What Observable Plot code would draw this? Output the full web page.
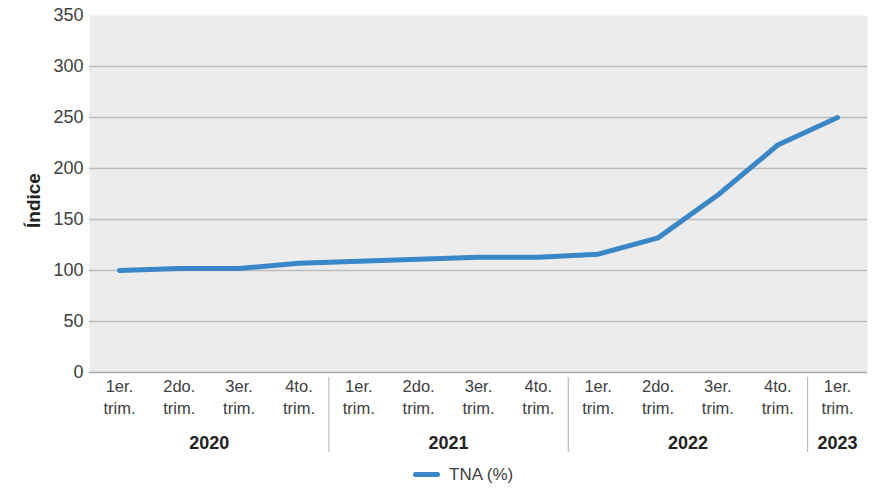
<!DOCTYPE html>
<html><head><meta charset="utf-8">
<script src="https://cdn.jsdelivr.net/npm/d3@7"></script>
<script src="https://cdn.jsdelivr.net/npm/@observablehq/plot@0.6"></script>
<style>
body{margin:0;background:#fff;font-family:"Liberation Sans",Arial,sans-serif;}
#legend{height:29px;display:flex;align-items:center;justify-content:flex-start;padding-left:413px;font-size:17px;color:#404040;}
#legend .sw{display:inline-block;width:27px;height:5px;border-radius:3px;margin-right:9px;}
</style></head><body><div id="chart"></div><div id="legend"></div><script>
const years = ["2020","2020","2020","2020","2021","2021","2021","2021","2022","2022","2022","2022","2023"];
const quarterLabels = ["1er.\ntrim.","2do.\ntrim.","3er.\ntrim.","4to.\ntrim.","1er.\ntrim.","2do.\ntrim.","3er.\ntrim.","4to.\ntrim.","1er.\ntrim.","2do.\ntrim.","3er.\ntrim.","4to.\ntrim.","1er.\ntrim."];
const values = [100, 102, 102, 107, 109, 111, 113, 113, 116, 132, 174, 223, 250];
const yTicks = [0, 50, 100, 150, 200, 250, 300, 350];
const seriesName = "TNA (%)";
const yLabel = "Índice";
const lineColor = "#3a87c8";

const data = values.map((v, i) => ({i, year: years[i], value: v}));
const yearGroups = d3.groups(data, d => d.year).map(([year, rows]) => ({year, mid: d3.mean(rows, r => r.i), last: d3.max(rows, r => r.i)}));
const separators = yearGroups.slice(0, -1).map(g => g.last + 0.5);

const chart = Plot.plot({
  width: 879, height: 460,
  marginTop: 15, marginRight: 12, marginBottom: 88, marginLeft: 89,
  style: {fontFamily: '"Liberation Sans", Arial, sans-serif', fontSize: "16.5px", color: "#404040", background: "transparent", overflow: "visible"},
  x: {type: "linear", domain: [-0.5, values.length - 0.5]},
  y: {domain: [0, 350]},
  marks: [
    Plot.frame({fill: "#ececec", stroke: "none"}),
    Plot.ruleY(yTicks.filter(t => t > 0 && t < 350), {stroke: "#bdbdbd", strokeWidth: 1.3}),
    Plot.ruleY([0], {stroke: "#a8a8a8", strokeWidth: 1.6}),
    Plot.axisY({ticks: yTicks, tickSize: 0, tickPadding: 6, label: null, fontSize: 18}),
    Plot.axisX({ticks: data.map(d => d.i), tickFormat: i => quarterLabels[i], tickSize: 0, tickPadding: 3, label: null, lineHeight: 1.38}),
    Plot.axisX({ticks: yearGroups.map(g => g.mid), tickFormat: m => yearGroups.find(g => g.mid === m).year, tickSize: 0, tickPadding: 64, fontWeight: "bold", fontSize: 18, fill: "#222", label: null}),
    Plot.axisX({ticks: separators, tickSize: 75, tickFormat: () => "", dy: 5, stroke: "#b0b0b0", label: null}),
    Plot.lineY(data, {x: "i", y: "value", stroke: lineColor, strokeWidth: 5, strokeLinecap: "round", strokeLinejoin: "round"}),
    Plot.text([yLabel], {frameAnchor: "left", rotate: -90, dx: -56, dy: 34, fontWeight: "bold", fontSize: 19, fill: "#222"})
  ]
});
document.getElementById("chart").append(chart);
const lg = document.getElementById("legend");
lg.innerHTML = `<span class="sw" style="background:${lineColor}"></span><span>${seriesName}</span>`;
</script></body></html>
